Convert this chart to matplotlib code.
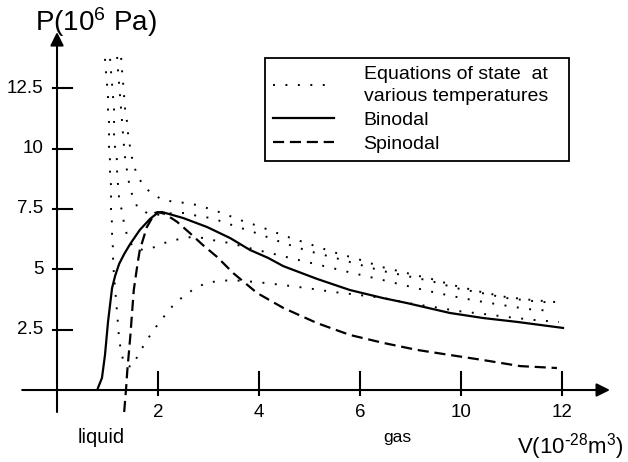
import matplotlib
matplotlib.use('Agg')
import matplotlib.pyplot as plt

plt.rcParams['font.family'] = ['Liberation Sans', 'DejaVu Sans']
plt.rcParams['mathtext.default'] = 'regular'

# isotherms (dotted), x in axis position units
t1_v = [1.27, 1.29, 1.31, 1.33, 1.35, 1.39, 1.41, 1.45, 1.50, 1.58, 1.70, 1.88, 2.10, 2.36, 2.59, 2.85,
        3.09, 3.33, 3.56, 3.80, 4.04, 4.51, 4.99, 5.47, 5.96, 6.44, 6.93, 7.41, 7.90, 8.40, 8.89, 9.39, 9.88]
t1_p = [13.75, 13.17, 12.67, 12.13, 11.59, 11.06, 10.52, 10.02, 9.44, 8.94, 8.49, 8.12, 7.87, 7.78, 7.74, 7.62,
        7.45, 7.29, 7.08, 6.92, 6.75, 6.38, 6.05, 5.71, 5.42, 5.09, 4.84, 4.60, 4.31, 4.06, 3.85, 3.73, 3.64]

t2_v = [1.19, 1.21, 1.23, 1.25, 1.27, 1.29, 1.31, 1.33, 1.35, 1.39, 1.43, 1.50, 1.60, 1.82, 2.06, 2.30, 2.55,
        2.79, 3.05, 3.29, 3.52, 3.76, 4.00, 4.48, 4.97, 5.44, 5.94, 6.44, 6.93, 7.41, 7.90, 8.40, 8.89, 9.39, 9.88]
t2_p = [13.79, 13.17, 12.67, 12.13, 11.59, 11.06, 10.52, 10.02, 9.57, 9.03, 8.53, 7.99, 7.54, 7.29, 7.25, 7.33, 7.33,
        7.20, 7.12, 6.96, 6.79, 6.63, 6.46, 6.09, 5.76, 5.51, 5.22, 4.93, 4.72, 4.51, 4.22, 4.02, 3.81, 3.69, 3.60]

t3_v = [1.05, 1.07, 1.09, 1.11, 1.13, 1.13, 1.13, 1.15, 1.19, 1.19, 1.21, 1.23, 1.29, 1.33, 1.39, 1.50, 1.70,
        1.94, 2.18, 2.42, 2.67, 2.91, 3.17, 3.41, 3.88, 4.38, 4.87, 5.37, 5.86, 6.36, 6.85, 7.35, 7.82, 8.32,
        8.81, 9.33, 9.82]
t3_p = [13.71, 13.17, 12.67, 12.13, 11.59, 11.06, 10.52, 10.02, 9.48, 8.94, 8.45, 7.91, 7.37, 6.87, 6.38, 5.92, 5.80,
        5.92, 6.13, 6.25, 6.34, 6.29, 6.17, 6.09, 5.84, 5.59, 5.34, 5.09, 4.84, 4.60, 4.35, 4.10, 3.89, 3.69,
        3.52, 3.35, 3.27]

t4_v = [0.95, 0.97, 0.99, 1.01, 1.01, 1.03, 1.03, 1.03, 1.05, 1.05, 1.07, 1.07, 1.07, 1.09, 1.09, 1.11, 1.11,
        1.13, 1.15, 1.17, 1.19, 1.21, 1.23, 1.27, 1.33, 1.47, 1.60, 1.72, 1.86, 2.00, 2.16, 2.32, 2.51, 2.71,
        2.95, 3.19, 3.47, 3.70, 3.96, 4.46, 4.95, 5.47, 5.96, 6.46, 6.95, 7.45, 7.94, 8.44, 8.93, 9.45, 9.94]
t4_p = [13.71, 13.17, 12.67, 12.13, 11.59, 11.06, 10.52, 10.02, 9.48, 8.94, 8.45, 7.91, 7.37, 6.87, 6.34, 5.80, 5.30,
        4.72, 4.22, 3.69, 3.19, 2.65, 2.11, 1.57, 1.08, 0.95, 1.41, 1.86, 2.32, 2.73, 3.15, 3.56, 3.89, 4.18,
        4.43, 4.51, 4.55, 4.51, 4.47, 4.35, 4.22, 4.06, 3.94, 3.81, 3.60, 3.44, 3.27, 3.15, 3.02, 2.90, 2.82]

bin_v = [0.81, 0.89, 0.95, 1.01, 1.09, 1.15, 1.23, 1.33, 1.45, 1.64, 1.84, 2.00, 2.08, 2.50, 2.97, 3.43, 3.82,
         4.18, 4.48, 5.15, 5.80, 6.45, 6.93, 7.78, 8.44, 9.11, 10.02]
bin_p = [0.08, 0.50, 1.45, 2.82, 4.22, 4.72, 5.22, 5.63, 6.05, 6.63, 7.08, 7.35, 7.37, 7.12, 6.75, 6.29, 5.80,
         5.47, 5.13, 4.60, 4.14, 3.81, 3.60, 3.19, 2.98, 2.82, 2.57]

spin_v = [1.33, 1.37, 1.39, 1.45, 1.52, 1.60, 1.64, 1.78, 1.94, 2.00, 2.14, 2.38, 2.63, 2.89, 3.17, 3.49, 3.96,
          4.48, 5.15, 5.80, 6.46, 7.13, 7.78, 8.44, 9.17, 9.90]
spin_p = [-0.91, 0.12, 0.75, 2.19, 4.14, 5.30, 5.80, 6.75, 7.33, 7.37, 7.29, 6.96, 6.50, 6.00, 5.51, 4.84, 4.02,
          3.40, 2.77, 2.28, 1.95, 1.66, 1.45, 1.24, 0.99, 0.91]

y_ticks = [2.5, 5, 7.5, 10, 12.5]
y_labels = ['2.5', '5', '7.5', '10', '12.5']
x_ticks = [2, 4, 6, 8, 10]
x_labels = ['2', '4', '6', '10', '12']

fig = plt.figure(figsize=(6.28, 4.62), dpi=100)
ax = fig.add_axes([0, 0, 1, 1])
ax.set_xlim(-1.129, 11.307)
ax.set_ylim(-2.981, 16.149)
ax.axis('off')

dots = (0, (1, 5.4))
ax.plot(t1_v, t1_p, color='black', lw=1.4, ls=dots, dash_capstyle='butt',
        label='Equations of state  at\nvarious temperatures')
for xs, ys in [(t2_v, t2_p), (t3_v, t3_p), (t4_v, t4_p)]:
    ax.plot(xs, ys, color='black', lw=1.4, ls=dots, dash_capstyle='butt')
ax.plot(bin_v, bin_p, color='black', lw=1.6, label='Binodal')
ax.plot(spin_v, spin_p, color='black', lw=1.6, ls=(0, (5, 2.6)), label='Spinodal')

# axes with arrows
arrow = dict(arrowstyle='-|>,head_length=0.4,head_width=0.2', color='black', lw=1.5,
             shrinkA=0, shrinkB=0, mutation_scale=20)
ax.annotate('', xy=(10.95, 0), xytext=(-0.69, 0), arrowprops=arrow)
ax.annotate('', xy=(0, 14.82), xytext=(0, -0.91), arrowprops=arrow)

for v, lab in zip(y_ticks, y_labels):
    ax.plot([-0.08, 0.30], [v, v], color='black', lw=1.5)
    ax.text(-0.27, v, lab, ha='right', va='center', fontsize=13.5)
for v, lab in zip(x_ticks, x_labels):
    ax.plot([v, v], [0.75, -0.2], color='black', lw=1.5)
    ax.text(v, -0.95, lab, ha='center', va='center', fontsize=13.5)

ax.text(0.87, -1.95, 'liquid', ha='center', va='center', fontsize=14.5)
ax.text(6.73, -1.95, 'gas', ha='center', va='center', fontsize=12.5)
ax.text(0.77, 15.24, r'P(10$^6$ Pa)', ha='center', va='center', fontsize=20)
ax.text(9.11, -2.36, r'V(10$^{\text{-}28}$m$^3$)', ha='left', va='center', fontsize=16)

leg = ax.legend(loc='upper left', bbox_to_anchor=(0.422, 0.6385, 0.484, 0.236), mode='expand',
                borderaxespad=0, fontsize=14, frameon=True, fancybox=False, edgecolor='black',
                framealpha=1, handlelength=3.15, handletextpad=1.5, labelspacing=0.32, borderpad=0.42)
leg.get_frame().set_linewidth(1.3)
leg.get_texts()[0].set_linespacing(1.4)

fig.savefig('out.png', dpi=100)
